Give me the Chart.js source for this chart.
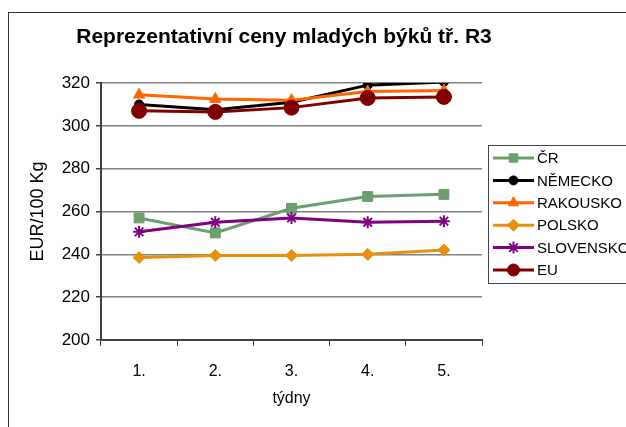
<!DOCTYPE html>
<html>
<head>
<meta charset="utf-8">
<script src="https://cdn.jsdelivr.net/npm/chart.js@4/dist/chart.umd.min.js"></script>
<style>
  html, body { margin: 0; padding: 0; background: #fff; }
  #wrap { width: 626px; height: 427px; }
</style>
</head>
<body>
<div id="wrap"><canvas id="chart" width="626" height="427"></canvas></div>
<script>
const weeks = ['1.', '2.', '3.', '4.', '5.'];
const yTicks = [200, 220, 240, 260, 280, 300, 320];

const cr = [257, 250, 261.5, 267, 268];
const nemecko = [310, 307.5, 311, 319, 320.5];
const rakousko = [314.5, 312.5, 312, 316, 316.5];
const polsko = [238.5, 239.5, 239.5, 240, 242];
const slovensko = [250.5, 255, 257, 255, 255.5];
const eu = [307, 306.5, 308.5, 313, 313.5];

const chartTitle = 'Reprezentativní ceny mladých býků tř. R3';
const FONT = "Arial, 'Liberation Sans', sans-serif";

function series(label, data, color, pointStyle, radius, order) {
    return {
        label: label,
        data: data,
        borderColor: color,
        backgroundColor: color,
        pointBackgroundColor: color,
        pointBorderColor: color,
        pointStyle: pointStyle,
        pointRadius: radius,
        pointBorderWidth: pointStyle === 'star' ? 2 : 1,
        borderWidth: 3,
        tension: 0,
        order: order
    };
}

const datasets = [
    series('ČR', cr, '#6b9f6e', 'rect', 7, 6),
    series('NĚMECKO', nemecko, '#000000', 'circle', 4.5, 5),
    series('RAKOUSKO', rakousko, '#ff6600', 'triangle', 6.5, 4),
    series('POLSKO', polsko, '#e8900c', 'rectRot', 6, 3),
    series('SLOVENSKO', slovensko, '#800080', 'star', 6, 2),
    series('EU', eu, '#800000', 'circle', 7.5, 1)
];

// frame, title and the boxed legend on the right
const decorations = {
    id: 'decorations',
    beforeDraw(chart) {
        const ctx = chart.ctx;
        ctx.save();
        ctx.fillStyle = '#ffffff';
        ctx.fillRect(0, 0, chart.width, chart.height);
        ctx.strokeStyle = '#333333';
        ctx.lineWidth = 1;
        ctx.strokeRect(8.5, 12.5, 800, 600);
        ctx.restore();
    },
    afterDraw(chart) {
        const ctx = chart.ctx;
        ctx.save();
        ctx.fillStyle = '#000';
        ctx.font = 'bold 21px ' + FONT;
        ctx.textAlign = 'center';
        ctx.textBaseline = 'middle';
        ctx.fillText(chartTitle, 284, 37);

        ctx.strokeStyle = '#444';
        ctx.lineWidth = 1;
        ctx.strokeRect(488.5, 145.5, 200, 138);

        ctx.font = '15px ' + FONT;
        ctx.textAlign = 'left';
        chart.data.datasets.forEach((ds, i) => {
            const y = 158 + i * 22.4;
            ctx.strokeStyle = ds.borderColor;
            ctx.fillStyle = ds.borderColor;
            ctx.lineWidth = 3;
            ctx.beginPath();
            ctx.moveTo(493, y);
            ctx.lineTo(534, y);
            ctx.stroke();
            ctx.lineWidth = ds.pointBorderWidth;
            Chart.helpers.drawPoint(ctx, {
                pointStyle: ds.pointStyle,
                radius: Math.min(ds.pointRadius, 6),
                rotation: 0,
                borderWidth: ds.pointBorderWidth
            }, 513.5, y);
            ctx.fillStyle = '#000';
            ctx.fillText(ds.label, 537, y + 1);
        });
        ctx.restore();
    }
};

new Chart(document.getElementById('chart'), {
    type: 'line',
    data: {
        labels: weeks,
        datasets: datasets
    },
    options: {
        responsive: false,
        animation: false,
        layout: {
            padding: { top: 83, right: 144, left: 0, bottom: 0 }
        },
        plugins: {
            legend: { display: false },
            title: { display: false },
            tooltip: { enabled: false }
        },
        scales: {
            x: {
                offset: true,
                afterFit: scale => { scale.height = 87; },
                grid: {
                    offset: true,
                    drawOnChartArea: false,
                    drawTicks: true,
                    tickLength: 6,
                    color: '#404040'
                },
                border: { color: '#404040', width: 2 },
                ticks: {
                    color: '#000',
                    padding: 16,
                    font: { family: FONT, size: 16 }
                },
                title: {
                    display: true,
                    text: 'týdny',
                    color: '#000',
                    padding: { top: 0, bottom: 19 },
                    font: { family: FONT, size: 16 }
                }
            },
            y: {
                min: 200,
                max: 320,
                afterFit: scale => { scale.width = 101; },
                afterBuildTicks: scale => { scale.ticks = yTicks.map(v => ({ value: v })); },
                grid: {
                    color: '#808080',
                    lineWidth: 1.5,
                    tickLength: 5,
                    tickColor: '#404040'
                },
                border: { color: '#404040', width: 2 },
                ticks: {
                    color: '#000',
                    padding: 6,
                    font: { family: FONT, size: 17 }
                },
                title: {
                    display: true,
                    text: 'EUR/100 Kg',
                    color: '#000',
                    padding: { top: 27, bottom: 0 },
                    font: { family: FONT, size: 18 }
                }
            }
        }
    },
    plugins: [decorations]
});
</script>
</body>
</html>
